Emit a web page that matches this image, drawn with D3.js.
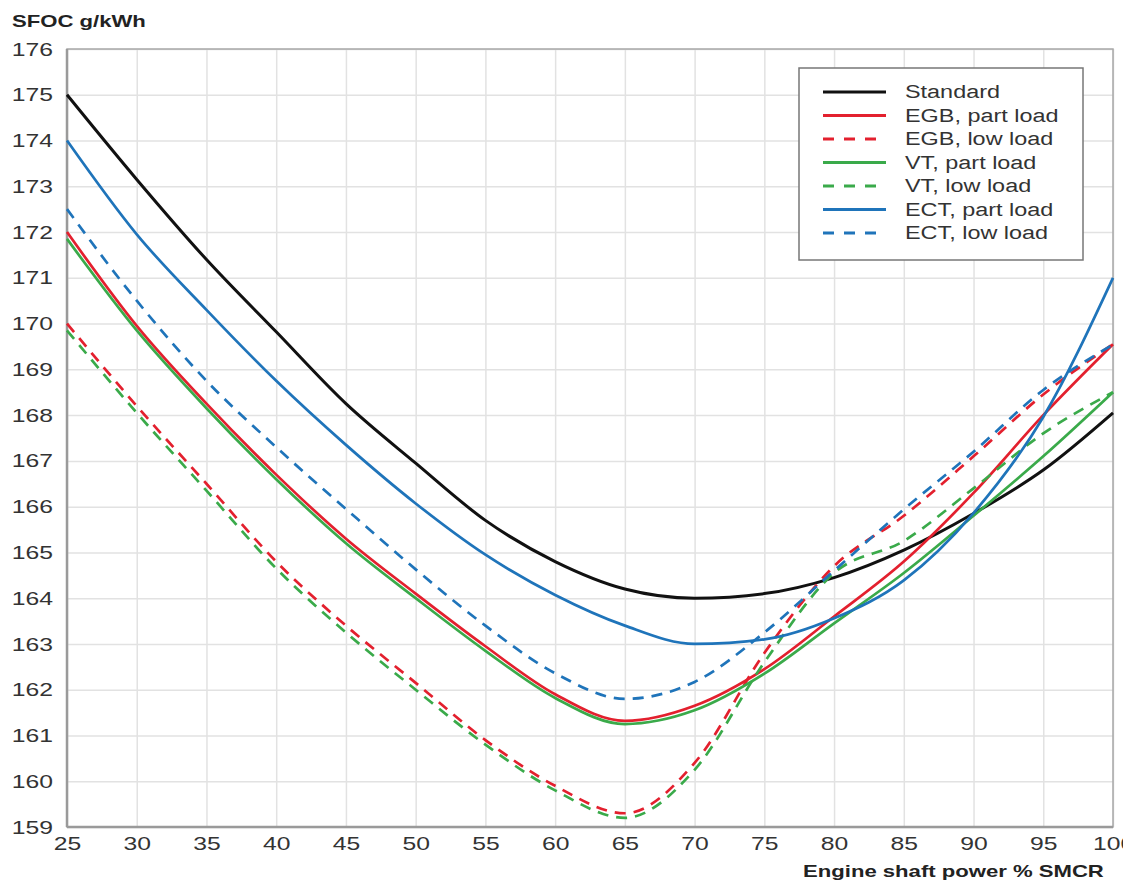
<!DOCTYPE html>
<html>
<head>
<meta charset="utf-8">
<script src="https://cdn.jsdelivr.net/npm/d3@7"></script>
<style>
  body { margin: 0; background: #fff; }
  svg { display: block; font-family: "Liberation Sans", Arial, sans-serif; }
</style>
</head>
<body>
<script>
// engine load, % SMCR
var loads = [25, 30, 35, 40, 45, 50, 55, 60, 65, 70, 75, 80, 85, 90, 95, 100];

// SFOC g/kWh per tuning
var standard = [175.0, 173.15, 171.4, 169.82, 168.25, 166.95, 165.7, 164.8, 164.2, 164.0, 164.1, 164.45, 165.05, 165.85, 166.8, 168.05];
var egbPart  = [172.0, 169.95, 168.25, 166.7, 165.3, 164.1, 162.95, 161.9, 161.32, 161.65, 162.45, 163.6, 164.8, 166.3, 168.0, 169.55];
var egbLow   = [170.0, 168.2, 166.5, 164.8, 163.4, 162.15, 160.9, 159.9, 159.3, 160.4, 162.8, 164.7, 165.8, 167.1, 168.45, 169.55];
var vtPart   = [171.85, 169.85, 168.15, 166.6, 165.2, 164.0, 162.85, 161.82, 161.25, 161.55, 162.35, 163.45, 164.55, 165.8, 167.1, 168.5];
var vtLow    = [169.85, 168.05, 166.35, 164.65, 163.25, 162.0, 160.8, 159.8, 159.2, 160.25, 162.6, 164.55, 165.25, 166.4, 167.6, 168.5];
var ectPart  = [174.0, 171.95, 170.3, 168.75, 167.35, 166.07, 164.95, 164.07, 163.4, 163.0, 163.1, 163.56, 164.39, 165.86, 167.96, 171.0];
var ectLow   = [172.5, 170.5, 168.75, 167.3, 165.95, 164.63, 163.4, 162.36, 161.8, 162.17, 163.25, 164.6, 165.94, 167.2, 168.55, 169.54];

var xTicks = [25, 30, 35, 40, 45, 50, 55, 60, 65, 70, 75, 80, 85, 90, 95, 100];
var yTicks = [159, 160, 161, 162, 163, 164, 165, 166, 167, 168, 169, 170, 171, 172, 173, 174, 175, 176];

var series = [
  { name: "Standard",          values: standard, color: "#111111", dash: null,   width: 3 },
  { name: "EGB, part load",    values: egbPart,  color: "#e3202e", dash: null,   width: 2.7 },
  { name: "EGB, low load",     values: egbLow,   color: "#e3202e", dash: "11,8", width: 2.7 },
  { name: "VT, part load",     values: vtPart,   color: "#3aaa4a", dash: null,   width: 2.7 },
  { name: "VT, low load",      values: vtLow,    color: "#3aaa4a", dash: "11,8", width: 2.7 },
  { name: "ECT, part load",    values: ectPart,  color: "#1f74ba", dash: null,   width: 2.7 },
  { name: "ECT, low load",     values: ectLow,   color: "#1f74ba", dash: "11,8", width: 2.7 }
];

var W = 1123, H = 881;
var margin = { top: 49, right: 10, bottom: 54, left: 67 };
var width = W - margin.left - margin.right;
var height = H - margin.top - margin.bottom;
var STRETCH = 1.3; // the original text is drawn wide

// widen text glyphs horizontally
function stretch(sel) {
  sel.each(function() {
    var len = this.getComputedTextLength();
    d3.select(this)
      .attr("textLength", len * STRETCH)
      .attr("lengthAdjust", "spacingAndGlyphs");
  });
}

var svg = d3.select("body").append("svg")
  .attr("width", W)
  .attr("height", H);

var g = svg.append("g")
  .attr("transform", "translate(" + margin.left + "," + margin.top + ")");

var x = d3.scaleLinear().domain([25, 100]).range([0, width]);
var y = d3.scaleLinear().domain([159, 176]).range([height, 0]);

// grid
g.append("g")
  .attr("class", "grid")
  .call(d3.axisLeft(y).tickValues(yTicks).tickSize(-width).tickFormat(""))
  .call(function(s) { s.select(".domain").remove(); })
  .selectAll("line").attr("stroke", "#e2e2e2").attr("stroke-width", 1.5);

g.append("g")
  .attr("class", "grid")
  .attr("transform", "translate(0," + height + ")")
  .call(d3.axisBottom(x).tickValues(xTicks).tickSize(-height).tickFormat(""))
  .call(function(s) { s.select(".domain").remove(); })
  .selectAll("line").attr("stroke", "#e2e2e2").attr("stroke-width", 1.5);

// frame
g.append("rect")
  .attr("width", width)
  .attr("height", height)
  .attr("fill", "none")
  .attr("stroke", "#a8a8a8")
  .attr("stroke-width", 1.5);
g.append("line").attr("x1", 0).attr("x2", 0).attr("y1", 0).attr("y2", height)
  .attr("stroke", "#9a9a9a").attr("stroke-width", 2.5);
g.append("line").attr("x1", 0).attr("x2", width).attr("y1", height).attr("y2", height)
  .attr("stroke", "#9a9a9a").attr("stroke-width", 2.5);

// axes labels
var yAxis = g.append("g")
  .call(d3.axisLeft(y).tickValues(yTicks).tickSize(0).tickPadding(14).tickFormat(d3.format("d")));
yAxis.select(".domain").remove();
yAxis.selectAll("text")
  .attr("font-size", 19)
  .attr("fill", "#333")
  .attr("font-family", "Liberation Sans, Arial, sans-serif")
  .call(stretch);

var xAxis = g.append("g")
  .attr("transform", "translate(0," + height + ")")
  .call(d3.axisBottom(x).tickValues(xTicks).tickSize(0).tickPadding(10).tickFormat(d3.format("d")));
xAxis.select(".domain").remove();
xAxis.selectAll("text")
  .attr("font-size", 19)
  .attr("fill", "#333")
  .attr("font-family", "Liberation Sans, Arial, sans-serif")
  .call(stretch);

svg.append("text")
  .attr("x", 12)
  .attr("y", 27)
  .attr("font-size", 17)
  .attr("font-weight", "bold")
  .attr("fill", "#222")
  .text("SFOC g/kWh")
  .call(stretch);

svg.append("text")
  .attr("x", 803)
  .attr("y", 877)
  .attr("font-size", 17)
  .attr("font-weight", "bold")
  .attr("fill", "#222")
  .text("Engine shaft power % SMCR")
  .call(stretch);

// curves
var line = d3.line()
  .x(function(d, i) { return x(loads[i]); })
  .y(function(d) { return y(d); })
  .curve(d3.curveMonotoneX);

g.selectAll(".series")
  .data(series)
  .enter()
  .append("path")
  .attr("class", "series")
  .attr("d", function(d) { return line(d.values); })
  .attr("fill", "none")
  .attr("stroke", function(d) { return d.color; })
  .attr("stroke-width", function(d) { return d.width; })
  .attr("stroke-dasharray", function(d) { return d.dash; });

// legend
var legend = svg.append("g").attr("transform", "translate(799,68)");
legend.append("rect")
  .attr("width", 284)
  .attr("height", 192)
  .attr("fill", "#fff")
  .attr("stroke", "#777")
  .attr("stroke-width", 1.5);

var item = legend.selectAll(".item")
  .data(series)
  .enter()
  .append("g")
  .attr("class", "item")
  .attr("transform", function(d, i) { return "translate(0," + (24 + i * 23.5) + ")"; });

item.append("line")
  .attr("x1", 24).attr("x2", 87)
  .attr("stroke", function(d) { return d.color; })
  .attr("stroke-width", 2.8)
  .attr("stroke-dasharray", function(d) { return d.dash ? "11,10" : null; });

item.append("text")
  .attr("x", 106)
  .attr("dy", "0.35em")
  .attr("font-size", 18)
  .attr("fill", "#333")
  .text(function(d) { return d.name; })
  .call(stretch);
</script>
</body>
</html>
